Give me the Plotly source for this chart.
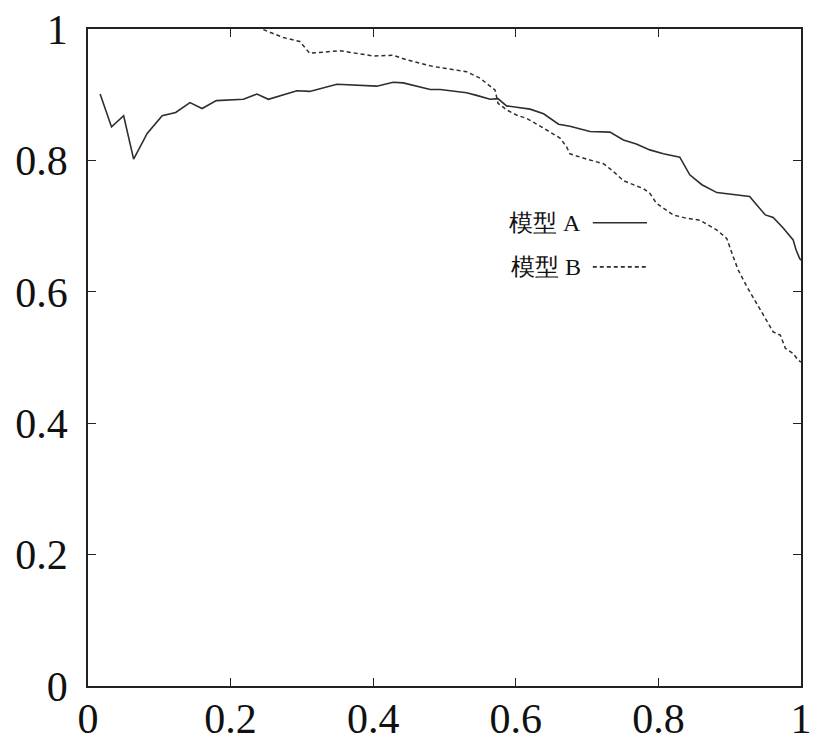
import plotly.graph_objects as go

# Model A (solid)
a_x = [0.017, 0.033, 0.050, 0.064, 0.083, 0.104, 0.123, 0.143, 0.160, 0.180, 0.218,
       0.237, 0.253, 0.293, 0.311, 0.349, 0.405, 0.428, 0.442, 0.480, 0.494, 0.531,
       0.545, 0.564, 0.575, 0.587, 0.601, 0.620, 0.639, 0.660, 0.676, 0.704, 0.732,
       0.751, 0.769, 0.788, 0.807, 0.830, 0.844, 0.861, 0.882, 0.905, 0.928, 0.938,
       0.950, 0.961, 0.975, 0.989, 0.993, 0.998, 1.0]
a_y = [0.901, 0.851, 0.868, 0.802, 0.841, 0.868, 0.873, 0.888, 0.879, 0.891, 0.893,
       0.901, 0.893, 0.906, 0.905, 0.916, 0.913, 0.919, 0.918, 0.908, 0.908, 0.903,
       0.899, 0.893, 0.894, 0.883, 0.881, 0.878, 0.871, 0.855, 0.852, 0.844, 0.843,
       0.831, 0.825, 0.816, 0.810, 0.805, 0.778, 0.763, 0.751, 0.748, 0.745, 0.732,
       0.717, 0.713, 0.697, 0.679, 0.664, 0.651, 0.648]

# Model B (dashed)
b_x = [0.246, 0.274, 0.297, 0.311, 0.353, 0.400, 0.428, 0.447, 0.484, 0.531, 0.550,
       0.571, 0.575, 0.587, 0.601, 0.615, 0.639, 0.662, 0.671, 0.676, 0.699, 0.723,
       0.737, 0.751, 0.779, 0.788, 0.797, 0.821, 0.839, 0.858, 0.882, 0.896, 0.905,
       0.912, 0.924, 0.938, 0.952, 0.961, 0.971, 0.978, 0.989, 0.996, 1.0]
b_y = [0.999, 0.987, 0.981, 0.963, 0.967, 0.959, 0.960, 0.953, 0.943, 0.935, 0.925,
       0.907, 0.887, 0.877, 0.869, 0.864, 0.849, 0.834, 0.821, 0.810, 0.802, 0.795,
       0.783, 0.769, 0.757, 0.750, 0.735, 0.717, 0.712, 0.709, 0.694, 0.681, 0.653,
       0.633, 0.608, 0.582, 0.557, 0.539, 0.534, 0.514, 0.506, 0.496, 0.493]

tick_vals = [0, 0.2, 0.4, 0.6, 0.8, 1]
tick_text = ["0", "0.2", "0.4", "0.6", "0.8", "1"]
names = ["模型 A", "模型 B"]

SERIF = "Liberation Serif"
line_col = "#2e2e2e"
fig = go.Figure()
fig.add_trace(go.Scatter(x=a_x, y=a_y, mode="lines", name=names[0],
                         line=dict(color=line_col, width=1.6), showlegend=False))
fig.add_trace(go.Scatter(x=b_x, y=b_y, mode="lines", name=names[1],
                         line=dict(color=line_col, width=1.5, dash="4px,3px"), showlegend=False))

# gnuplot-style key: text then line sample
key_y = [0.705, 0.638]
dashes = ["solid", "4px,3px"]
for nm, ky, ds in zip(names, key_y, dashes):
    fig.add_annotation(x=0.694, y=ky, xref="paper", yref="paper", text=nm,
                       showarrow=False, xanchor="right", yanchor="middle",
                       font=dict(family=SERIF, size=24, color="#111"))
    fig.add_shape(type="line", xref="paper", yref="paper", x0=0.708, x1=0.784, y0=ky, y1=ky,
                  line=dict(color=line_col, width=1.6, dash=ds))

axis_common = dict(range=[0, 1], tickvals=tick_vals, ticktext=tick_text,
                   showline=True, mirror="ticks", linecolor="#222", linewidth=1.6,
                   ticks="inside", ticklen=8, tickwidth=1.4, tickcolor="#222",
                   showgrid=False, zeroline=False, automargin=False,
                   tickfont=dict(family=SERIF, size=42, color="#111"))
fig.update_xaxes(**axis_common, ticklabelstandoff=-5)
fig.update_yaxes(**axis_common, ticklabelstandoff=10)

fig.update_layout(width=820, height=747, margin=dict(l=88, r=19, t=29, b=61),
                  plot_bgcolor="white", paper_bgcolor="white",
                  font=dict(family=SERIF))
fig.write_html("out.html")
